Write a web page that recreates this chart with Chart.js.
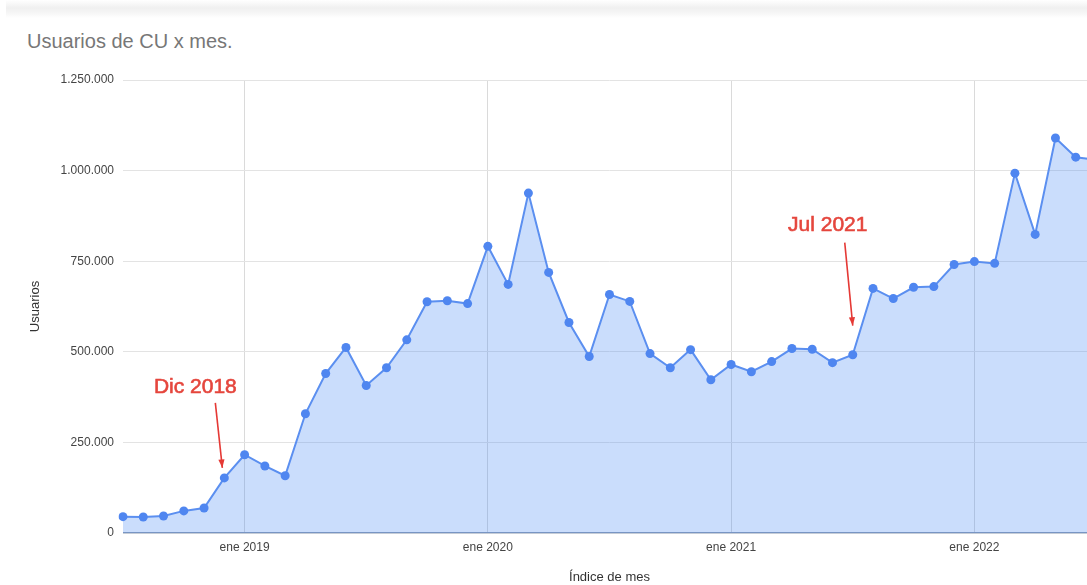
<!DOCTYPE html>
<html>
<head>
<meta charset="utf-8">
<script src="https://cdn.jsdelivr.net/npm/chart.js@4.4.0/dist/chart.umd.min.js"></script>
<style>
  html, body { margin: 0; padding: 0; background: #fff; overflow: hidden; width: 1087px; height: 585px; }
  #bar { position: absolute; left: 6px; top: 0; width: 1081px; height: 18px;
         background: linear-gradient(#fff 0, #f0f0f0 8px, #f6f6f6 13px, #fff 18px); }
  #title { position: absolute; left: 27px; top: 30px; font: 20px "Liberation Sans", Arial, sans-serif; color: #777; }
  #wrap { position: absolute; left: 0; top: 0; width: 1110px; height: 585px; }
</style>
</head>
<body>
<div id="bar"></div>
<div id="title">Usuarios de CU x mes.</div>
<div id="wrap"><canvas id="usersChart"></canvas></div>
<script>
// Meses (jul 2018 - jul 2022)
const months = [
  'jul 2018', 'ago 2018', 'sep 2018', 'oct 2018', 'nov 2018', 'dic 2018',
  'ene 2019', 'feb 2019', 'mar 2019', 'abr 2019', 'may 2019', 'jun 2019',
  'jul 2019', 'ago 2019', 'sep 2019', 'oct 2019', 'nov 2019', 'dic 2019',
  'ene 2020', 'feb 2020', 'mar 2020', 'abr 2020', 'may 2020', 'jun 2020',
  'jul 2020', 'ago 2020', 'sep 2020', 'oct 2020', 'nov 2020', 'dic 2020',
  'ene 2021', 'feb 2021', 'mar 2021', 'abr 2021', 'may 2021', 'jun 2021',
  'jul 2021', 'ago 2021', 'sep 2021', 'oct 2021', 'nov 2021', 'dic 2021',
  'ene 2022', 'feb 2022', 'mar 2022', 'abr 2022', 'may 2022', 'jun 2022',
  'jul 2022'
];

// Usuarios por mes
const users = [
  45000, 44000, 47000, 61000, 69000, 152000,
  216000, 185000, 158000, 329000, 440000, 512000,
  407000, 456000, 533000, 638000, 641000, 633000,
  791000, 686000, 938000, 719000, 581000, 487000,
  658000, 639000, 495000, 456000, 506000, 423000,
  465000, 445000, 473000, 509000, 507000, 470000,
  492000, 675000, 647000, 678000, 680000, 741000,
  749000, 744000, 993000, 824000, 1090000, 1037000,
  1030000
];

const yTicks = [0, 250000, 500000, 750000, 1000000, 1250000];

// Anotaciones en rojo
const notes = [
  { text: 'Dic 2018', month: 'dic 2018' },
  { text: 'Jul 2021', month: 'jul 2021' }
];

Chart.defaults.font.family = '"Liberation Sans", Arial, sans-serif';

const fmt = v => v.toString().replace(/\B(?=(\d{3})+(?!\d))/g, '.');

const notesPlugin = {
  id: 'notes',
  afterDatasetsDraw(chart) {
    const c = chart.ctx;
    const xs = chart.scales.x, ys = chart.scales.y;
    // offsets relative to the marked point: text, arrow tail, arrow tip
    const geo = [
      { t: [-29, -91], a: [-9, -75], b: [-2, -10] },
      { t: [-25, -129], a: [-8, -112], b: [0, -29] }
    ];
    notes.forEach((n, k) => {
      const i = months.indexOf(n.month);
      const px = xs.getPixelForValue(i);
      const py = ys.getPixelForValue(users[i]);
      const g = geo[k];
      c.save();
      c.fillStyle = '#e5463d';
      c.strokeStyle = '#e5463d';
      c.lineWidth = 0.6;
      c.font = '21px "Liberation Sans", Arial, sans-serif';
      c.textAlign = 'center';
      c.textBaseline = 'middle';
      c.fillText(n.text, px + g.t[0], py + g.t[1]);
      c.strokeText(n.text, px + g.t[0], py + g.t[1]);
      const x1 = px + g.a[0], y1 = py + g.a[1], x2 = px + g.b[0], y2 = py + g.b[1];
      c.strokeStyle = '#e53935';
      c.fillStyle = '#e53935';
      c.lineWidth = 1.6;
      c.beginPath(); c.moveTo(x1, y1); c.lineTo(x2, y2); c.stroke();
      const ang = Math.atan2(y2 - y1, x2 - x1);
      c.beginPath();
      c.moveTo(x2, y2);
      c.lineTo(x2 - 9 * Math.cos(ang - 0.35), y2 - 9 * Math.sin(ang - 0.35));
      c.lineTo(x2 - 9 * Math.cos(ang + 0.35), y2 - 9 * Math.sin(ang + 0.35));
      c.closePath(); c.fill();
      c.restore();
    });
  }
};

const ctx = document.getElementById('usersChart').getContext('2d');
new Chart(ctx, {
  type: 'line',
  data: {
    labels: months,
    datasets: [{
      data: users,
      borderColor: '#5b8ff0',
      backgroundColor: 'rgba(66, 133, 244, 0.28)',
      fill: 'origin',
      borderWidth: 2,
      pointRadius: 4.5,
      pointBackgroundColor: '#4f86f0',
      pointBorderWidth: 0,
      tension: 0
    }]
  },
  options: {
    responsive: true,
    maintainAspectRatio: false,
    animation: false,
    layout: { padding: { top: 80, left: 28, right: 14, bottom: 0 } },
    plugins: { legend: { display: false }, tooltip: { enabled: false } },
    scales: {
      x: {
        grid: {
          drawTicks: false,
          color: c => (months[c.index] || '').startsWith('ene') ? '#dadada' : 'rgba(0,0,0,0)'
        },
        border: { display: false },
        ticks: {
          autoSkip: false, maxRotation: 0, padding: 7, color: '#444', font: { size: 12 },
          callback: (v, i) => months[i].startsWith('ene') ? months[i] : ''
        },
        title: { display: true, text: 'Índice de mes', color: '#333', font: { size: 13 }, padding: { top: 8, bottom: 0 } }
      },
      y: {
        min: 0,
        max: 1250000,
        afterBuildTicks: s => { s.ticks = yTicks.map(v => ({ value: v })); },
        grid: {
          drawTicks: false,
          color: c => c.tick.value === 0 ? '#8e9bb0' : '#e3e3e3',
          lineWidth: c => c.tick.value === 0 ? 1.5 : 1
        },
        border: { display: false },
        ticks: { padding: 9, color: '#444', font: { size: 12 }, callback: v => fmt(v) },
        title: { display: true, text: 'Usuarios', color: '#333', font: { size: 13 }, padding: { top: 0, bottom: 8 } }
      }
    }
  },
  plugins: [notesPlugin]
});
</script>
</body>
</html>
